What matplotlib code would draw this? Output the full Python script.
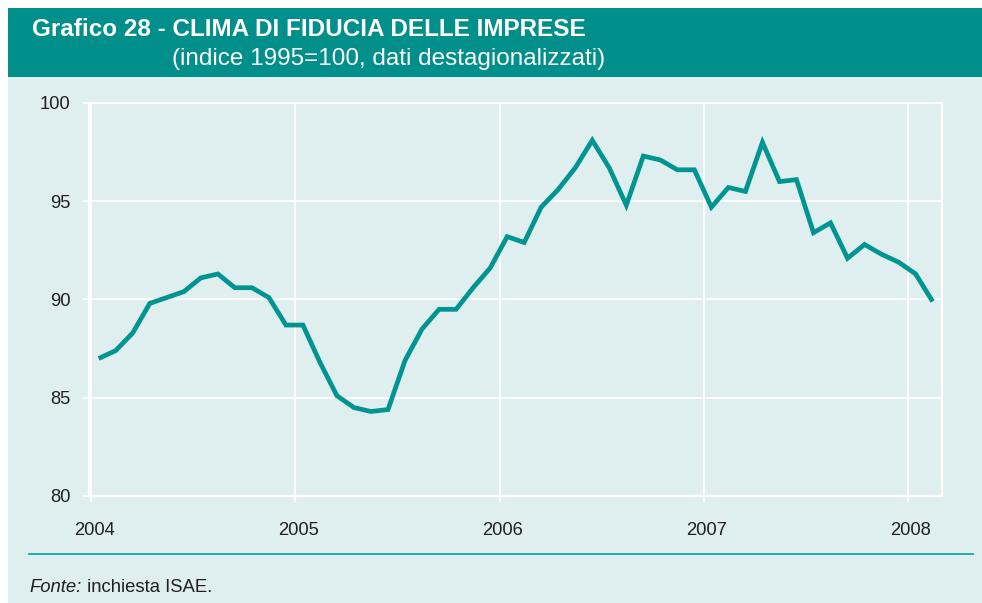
import matplotlib
matplotlib.use("Agg")
import matplotlib.pyplot as plt
from matplotlib import font_manager
from matplotlib.patches import Rectangle
from matplotlib.lines import Line2D
from matplotlib.transforms import ScaledTranslation

# ---- data ----
title = "Grafico 28 - CLIMA DI FIDUCIA DELLE IMPRESE"
subtitle = "(indice 1995=100, dati destagionalizzati)"
source_italic = "Fonte:"
source_rest = " inchiesta ISAE."
year_labels = ["2004", "2005", "2006", "2007", "2008"]
y_ticks = [80, 85, 90, 95, 100]
# monthly values Jan 2004 - Feb 2008
values = [
    87.0, 87.4, 88.3, 89.8, 90.1, 90.4, 91.1, 91.3, 90.6, 90.6, 90.1, 88.7,
    88.7, 86.8, 85.1, 84.5, 84.3, 84.4, 86.9, 88.5, 89.5, 89.5, 90.6, 91.6,
    93.2, 92.9, 94.7, 95.6, 96.7, 98.1, 96.7, 94.8, 97.3, 97.1, 96.6, 96.6,
    94.7, 95.7, 95.5, 98.0, 96.0, 96.1, 93.4, 93.9, 92.1, 92.8, 92.3, 91.9,
    91.3, 89.9,
]

available = {f.name for f in font_manager.fontManager.ttflist}
base_font = "Liberation Sans" if "Liberation Sans" in available else "DejaVu Sans"
plt.rcParams["font.family"] = [base_font, "DejaVu Sans"]

W, H = 982, 603
fig = plt.figure(figsize=(W / 100, H / 100), dpi=100)
fig.patch.set_facecolor("white")

teal = "#008F8A"
bg = "#DFEEEE"
line_col = "#009590"
text_col = "#231F20"

def fx(px):
    return px / W

def fy(py):
    return 1 - py / H

# background panels
fig.patches.append(Rectangle((fx(8), 0), 1 - fx(8), fy(77), transform=fig.transFigure,
                             facecolor=bg, edgecolor="none", zorder=-5))
fig.patches.append(Rectangle((fx(8), fy(77)), 1 - fx(8), fy(8) - fy(77), transform=fig.transFigure,
                             facecolor=teal, edgecolor="none", zorder=-5))

fig.text(fx(32), fy(30), title, color="white", fontsize=17.5, fontweight="bold",
         va="center", ha="left")
fig.text(fx(172), fy(58.5), subtitle, color="white", fontsize=17.5,
         va="center", ha="left")

# footer line
fig.lines.append(Line2D([fx(29), fx(973)], [fy(553.5), fy(553.5)], transform=fig.transFigure,
                        color="#00A09A", lw=1.2))
t = fig.text(fx(29), fy(587), source_italic, fontsize=13.3, style="italic",
             va="center", ha="left", color=text_col)
fig.canvas.draw()
bb = t.get_window_extent()
fig.text(bb.x1 / W + 0.001, fy(587), source_rest, fontsize=13.3, va="center", ha="left", color=text_col)

ax = fig.add_axes([fx(89), fy(496), fx(942) - fx(89), fy(103) - fy(496)])
ax.set_facecolor(bg)
x = [i + 0.45 for i in range(len(values))]
ax.plot(x, values, color=line_col, lw=3.4, solid_joinstyle="miter", solid_capstyle="butt", zorder=3)

ax.set_xlim(-0.12, 50)
ax.set_ylim(80, 100)
ax.set_yticks(y_ticks)
ax.set_xticks([12 * i for i in range(len(year_labels))])
ax.set_xticklabels(year_labels)
ax.grid(True, color="white", lw=1.3)
for s in ax.spines.values():
    s.set_color("white")
    s.set_linewidth(1.6)
ax.tick_params(axis="both", colors="white", length=4, width=1.3, labelsize=13.2,
               labelcolor=text_col)
ax.tick_params(axis="y", pad=9.5)
ax.tick_params(axis="x", pad=15)
shift = ScaledTranslation(3 / 100, 0, fig.dpi_scale_trans)
for lbl in ax.get_xticklabels():
    lbl.set_transform(lbl.get_transform() + shift)

fig.savefig("out.png", dpi=100, facecolor="white")
